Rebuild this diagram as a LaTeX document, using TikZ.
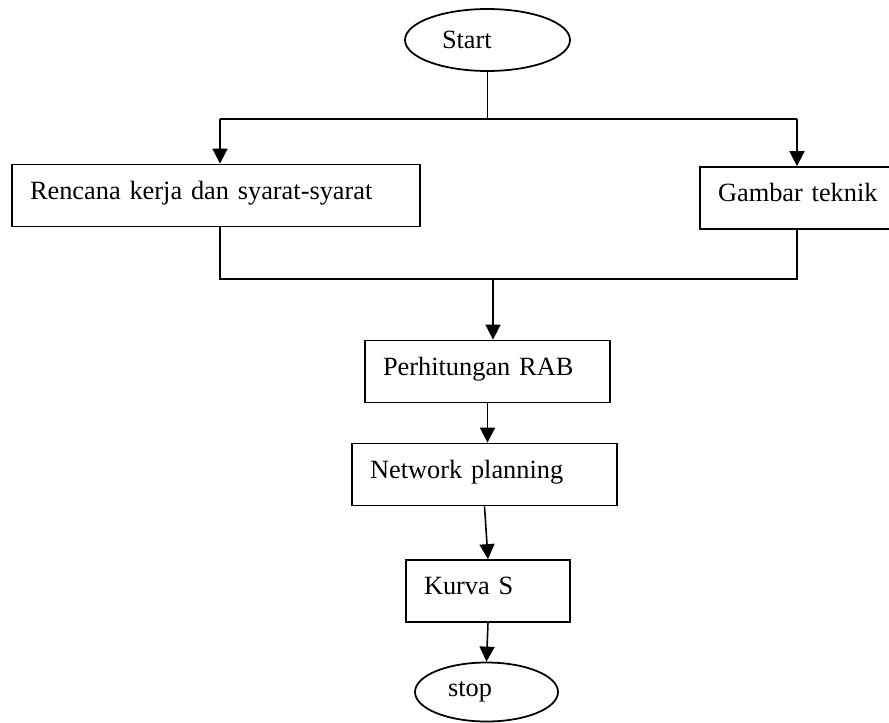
\documentclass[tikz,border=0pt]{standalone}
\usepackage{fontspec}
\setmainfont{Liberation Serif}
\usetikzlibrary{arrows.meta,shapes.geometric}

\begin{document}
\begin{tikzpicture}[x=0.02cm, y=-0.02cm,
    every node/.style={font=\fontsize{15}{18}\selectfont},
    stepbox/.style={draw, line width=1pt, rectangle, align=left, inner xsep=0.36cm,
      minimum height=1.24cm, text height=10pt, text depth=5.5pt},
    terminal/.style={draw, line width=1pt, ellipse, align=left, inner sep=0pt},
    link/.style={line width=0.9pt},
    flow/.style={link, -{Triangle[length=0.3cm, width=0.3cm]}}]

    % Page frame: 889 x 723 px, one unit = one pixel
    \useasboundingbox (0,0) rectangle (889,723);

    % Terminals
    \node[terminal, minimum width=3.3cm, minimum height=1.24cm, text width=1.82cm]
        (start) at (487.5,40) {Start};
    \node[terminal, minimum width=2.86cm, minimum height=1.18cm, text width=1.54cm]
        (stop) at (486.5,692) {stop};

    % Process boxes (text sits 18px in from the left edge)
    \node[stepbox, text width=7.44cm] (plan)    at (216,195.5)   {Rencana kerja dan syarat-syarat};
    \node[stepbox, text width=3.5cm]  (drawing) at (805.5,198)   {Gambar teknik};
    \node[stepbox, text width=4.18cm] (rab)     at (487.5,371.5) {Perhitungan RAB};
    \node[stepbox, text width=4.58cm] (network) at (484.5,474.5) {Network planning};
    \node[stepbox, text width=2.56cm] (kurva)   at (488,591)     {Kurva S};

    % Fork and join points
    \coordinate (forkL) at (220,119);
    \coordinate (forkR) at (797,119);
    \coordinate (joinL) at (220,279);
    \coordinate (joinR) at (797,279);
    \coordinate (join)  at (493,279);

    % Split after start
    \draw[link] (start.south) -- (start.south |- forkL);
    \draw[link] (forkL) -- (forkR);
    \draw[flow] (forkL) -- (forkL |- plan.north);
    \draw[flow] (forkR) -- (forkR |- drawing.north);

    % Merge into RAB
    \draw[link] (joinL |- plan.south) -- (joinL) -- (joinR) -- (joinR |- drawing.south);
    \draw[flow] (join) -- (join |- rab.north);

    % Main chain
    \draw[flow] (rab.south) -- (rab.south |- network.north);
    \draw[flow] (network.south) -- (kurva.north);
    \draw[flow] (kurva.south) -- (stop.north);
  \end{tikzpicture}
\end{document}
